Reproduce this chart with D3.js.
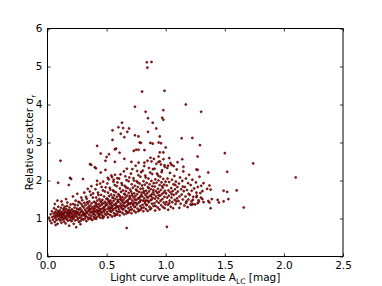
<!DOCTYPE html>
<html>
<head>
<meta charset="utf-8">
<script src="https://cdn.jsdelivr.net/npm/d3@7"></script>
<style>
  body { margin: 0; background: #fff; }
  text { font-family: "DejaVu Sans", sans-serif; fill: #000; }
</style>
</head>
<body>
<svg id="chart" width="382" height="286"></svg>
<script>
// axis ticks
var xTicks = [0.0, 0.5, 1.0, 1.5, 2.0, 2.5];
var yTicks = [0, 1, 2, 3, 4, 5, 6];

// [amplitude, scatter] pairs
// sparse points above the main cloud and in the tail
var spread = [
  [0.84,5.11],[0.88,5.12],[0.845,4.97],[0.80,4.34],[0.99,4.36],[0.74,3.94],[1.17,4.00],[1.30,3.81],
  [0.83,3.81],[0.98,3.85],[0.85,3.64],[0.97,3.65],[0.98,3.60],[0.89,3.52],[0.63,3.52],[0.60,3.40],
  [0.64,3.38],[0.69,3.37],[0.55,3.32],[0.92,3.37],[0.675,3.28],[0.62,3.23],[0.65,3.14],[0.85,3.28],
  [0.74,3.19],[0.77,3.16],[0.95,3.16],[1.135,3.11],[1.225,3.12],[0.78,3.00],[0.79,2.99],[0.87,2.99],
  [0.89,2.97],[0.94,3.00],[0.96,2.98],[1.00,2.87],[0.42,2.91],[0.55,3.07],[0.58,2.84],[0.61,2.73],
  [0.45,2.71],[0.52,2.69],[0.75,2.81],[0.77,2.81],[0.73,2.78],[0.82,2.80],[0.95,2.74],[0.98,2.74],
  [1.03,2.59],[1.27,2.63],[1.10,2.48],[1.14,2.56],[0.49,2.52],[0.57,2.49],[0.65,2.57],[0.71,2.49],
  [0.88,2.50],[0.90,2.57],[0.94,2.63],[0.94,2.49],[0.96,2.42],[0.99,2.40],[1.02,2.39],[1.05,2.41],
  [0.36,2.43],[0.40,2.35],[0.82,2.47],[1.15,2.36],[1.29,2.93],[1.50,2.72],[1.74,2.45],[1.26,2.29],
  [1.27,2.28],[1.36,2.21],[1.52,2.23],[2.10,2.08],[1.32,1.93],[1.30,1.86],[1.37,1.87],[1.38,1.76],
  [1.35,1.78],[1.31,1.72],[1.26,1.68],[1.22,1.73],[1.49,1.73],[1.52,1.70],[1.60,1.74],[1.26,1.56],
  [1.23,1.49],[1.31,1.51],[1.28,1.44],[1.27,1.40],[1.32,1.43],[1.36,1.46],[1.37,1.42],[1.39,1.51],
  [1.44,1.49],[1.45,1.42],[1.49,1.45],[1.53,1.51],[1.21,1.37],[1.22,1.36],[1.23,1.38],[1.38,1.27],
  [1.66,1.29],[0.11,2.52],[0.50,2.62],[0.57,2.82],[0.09,1.94],[0.19,2.07],[0.30,2.04],[0.37,2.41],
  [0.41,2.32],[0.49,2.28],[0.45,2.21],[0.51,2.07],[0.54,2.13],[0.56,2.02],[0.59,2.06],[0.20,2.04],
  [0.42,1.99],[0.18,1.88],[1.01,0.78],[0.67,0.75]
];

// dense band, amplitude below 0.3
var coreLow = [
  [0.013,1.02],[0.021,0.94],[0.027,1.11],[0.034,0.88],[0.038,1.19],[0.041,1.04],[0.046,0.97],[0.052,1.13],
  [0.055,1.27],[0.058,1.06],[0.061,0.91],[0.064,1.16],[0.067,1.01],[0.071,1.09],[0.073,1.23],[0.077,0.96],
  [0.079,1.14],[0.082,1.05],[0.086,0.86],[0.088,1.19],[0.091,1.31],[0.093,1.08],[0.096,0.99],[0.098,1.17],
  [0.062,1.38],[0.084,1.47],[0.069,0.83],[0.094,1.12],
  [0.102,1.07],[0.104,1.21],[0.107,0.95],[0.109,1.13],[0.112,1.02],[0.114,1.28],[0.116,1.09],[0.118,0.89],
  [0.121,1.17],[0.123,1.04],[0.126,1.36],[0.127,0.97],[0.131,1.12],[0.133,1.23],[0.135,1.01],[0.138,1.15],
  [0.141,0.92],[0.143,1.08],[0.145,1.31],[0.147,1.19],[0.151,1.03],[0.153,0.87],[0.156,1.14],[0.158,1.25],
  [0.161,1.06],[0.163,0.98],[0.166,1.18],[0.168,1.42],[0.171,1.09],[0.173,0.94],[0.176,1.22],[0.178,1.03],
  [0.181,1.13],[0.183,0.81],[0.186,1.29],[0.188,1.07],[0.191,0.96],[0.193,1.16],[0.196,1.37],[0.198,1.02],
  [0.119,1.45],[0.139,1.26],[0.157,1.51],[0.174,1.11],[0.192,1.21],[0.111,1.11],[0.149,1.0],[0.165,1.33],
  [0.185,1.17],[0.129,1.08],
  [0.202,1.12],[0.204,0.93],[0.207,1.24],[0.209,1.06],[0.212,1.17],[0.214,0.99],[0.217,1.38],[0.219,1.1],
  [0.222,0.86],[0.224,1.2],[0.226,1.03],[0.229,1.29],[0.231,1.14],[0.234,0.95],[0.236,1.08],[0.238,1.47],
  [0.241,1.19],[0.243,0.77],[0.246,1.05],[0.248,1.26],[0.251,1.12],[0.253,0.97],[0.256,1.35],[0.258,1.16],
  [0.261,1.01],[0.263,1.23],[0.266,0.91],[0.268,1.09],[0.271,1.42],[0.273,1.13],[0.276,1.02],[0.278,1.27],
  [0.281,0.94],[0.283,1.18],[0.286,1.55],[0.288,1.07],[0.291,1.21],[0.293,0.99],[0.296,1.33],[0.298,1.11],
  [0.215,1.58],[0.233,1.36],[0.252,1.65],[0.262,1.44],[0.279,0.85],[0.294,1.48],[0.206,1.02],[0.244,1.15],
  [0.269,1.25],[0.287,1.38]
];

// dense band, amplitude 0.3 - 0.7
var coreMid = [
  [0.302,1.16],[0.304,0.97],[0.307,1.29],[0.309,1.08],[0.312,1.41],[0.314,1.12],[0.317,1.0],[0.319,1.23],
  [0.322,1.35],[0.324,1.06],[0.327,1.18],[0.329,0.93],[0.332,1.52],[0.334,1.14],[0.337,1.27],[0.339,1.03],
  [0.342,1.39],[0.344,1.19],[0.347,0.98],[0.349,1.31],[0.352,1.1],[0.354,1.45],[0.357,1.21],[0.359,1.02],
  [0.362,1.34],[0.364,1.15],[0.367,1.62],[0.369,1.26],[0.372,1.07],[0.374,1.4],[0.377,1.18],[0.379,0.96],
  [0.382,1.3],[0.384,1.55],[0.387,1.12],[0.389,1.24],[0.392,1.04],[0.394,1.44],[0.397,1.2],[0.399,1.33],
  [0.311,1.68],[0.326,1.57],[0.341,1.78],[0.358,1.71],[0.371,1.85],[0.386,1.66],[0.398,1.0],[0.318,1.11],
  [0.336,1.43],[0.353,1.25],[0.368,0.99],[0.391,1.15],
  [0.402,1.27],[0.404,1.09],[0.407,1.41],[0.409,1.18],[0.412,1.55],[0.414,1.03],[0.417,1.32],[0.419,1.22],
  [0.422,1.47],[0.424,1.13],[0.427,1.68],[0.429,1.29],[0.432,1.06],[0.434,1.38],[0.437,1.2],[0.439,1.51],
  [0.442,1.11],[0.444,1.33],[0.447,1.02],[0.449,1.45],[0.452,1.24],[0.454,1.62],[0.457,1.15],[0.459,1.36],
  [0.462,1.08],[0.464,1.49],[0.467,1.27],[0.469,1.74],[0.472,1.19],[0.474,1.4],[0.477,1.05],[0.479,1.58],
  [0.482,1.31],[0.484,1.13],[0.487,1.44],[0.489,1.23],[0.492,1.82],[0.494,1.35],[0.497,1.1],[0.499,1.52],
  [0.406,1.77],[0.418,1.89],[0.431,1.62],[0.446,1.92],[0.458,1.83],[0.471,1.97],[0.486,1.71],[0.411,0.99],
  [0.426,1.17],[0.441,1.25],[0.456,1.42],[0.468,1.01],[0.481,1.21],[0.496,1.39],[0.415,1.37],[0.436,1.09],
  [0.451,1.16],[0.476,1.28],
  [0.502,1.36],[0.504,1.17],[0.507,1.52],[0.509,1.26],[0.512,1.68],[0.514,1.12],[0.517,1.43],[0.519,1.31],
  [0.522,1.59],[0.524,1.21],[0.527,1.81],[0.529,1.38],[0.532,1.09],[0.534,1.47],[0.537,1.28],[0.539,1.63],
  [0.542,1.19],[0.544,1.41],[0.547,1.05],[0.549,1.55],[0.552,1.33],[0.554,1.74],[0.557,1.23],[0.559,1.46],
  [0.562,1.14],[0.564,1.61],[0.567,1.37],[0.569,1.88],[0.572,1.27],[0.574,1.51],[0.577,1.11],[0.579,1.69],
  [0.582,1.4],[0.584,1.2],[0.587,1.57],[0.589,1.32],[0.592,1.95],[0.594,1.45],[0.597,1.16],[0.599,1.64],
  [0.506,1.92],[0.518,2.03],[0.531,1.76],[0.546,2.09],[0.558,1.97],[0.571,2.15],[0.586,1.85],[0.511,1.03],
  [0.526,1.25],[0.541,1.34],[0.556,1.54],[0.568,1.07],[0.581,1.29],[0.596,1.49],[0.515,1.48],[0.536,1.18],
  [0.551,1.26],[0.576,1.36],[0.563,1.71],[0.588,1.1],[0.521,1.42],[0.598,1.3],
  [0.602,1.44],[0.604,1.24],[0.607,1.61],[0.609,1.33],[0.612,1.79],[0.614,1.18],[0.617,1.51],[0.619,1.39],
  [0.622,1.7],[0.624,1.28],[0.627,1.93],[0.629,1.46],[0.632,1.15],[0.634,1.56],[0.637,1.35],[0.639,1.74],
  [0.642,1.25],[0.644,1.5],[0.647,1.11],[0.649,1.65],[0.652,1.41],[0.654,1.86],[0.657,1.3],[0.659,1.55],
  [0.662,1.2],[0.664,1.72],[0.667,1.45],[0.669,2.01],[0.672,1.34],[0.674,1.6],[0.677,1.17],[0.679,1.8],
  [0.682,1.49],[0.684,1.27],[0.687,1.67],[0.689,1.4],[0.692,2.08],[0.694,1.54],[0.697,1.22],[0.699,1.76],
  [0.606,2.05],[0.618,2.16],[0.631,1.88],[0.646,2.24],[0.658,2.11],[0.671,2.31],[0.686,1.98],[0.611,1.08],
  [0.626,1.32],[0.641,1.42],[0.656,1.63],[0.668,1.13],[0.681,1.37],[0.696,1.59],[0.615,1.57],[0.636,1.24],
  [0.651,1.33],[0.676,1.44],[0.663,1.82],[0.688,1.16],[0.621,1.5],[0.698,1.38]
];

// dense band, amplitude 0.7 - 1.0
var coreHigh = [
  [0.702,1.52],[0.704,1.3],[0.707,1.71],[0.709,1.41],[0.712,1.9],[0.714,1.24],[0.717,1.6],[0.719,1.47],
  [0.722,1.81],[0.724,1.35],[0.727,2.06],[0.729,1.55],[0.732,1.2],[0.734,1.66],[0.737,1.42],[0.739,1.86],
  [0.742,1.31],[0.744,1.59],[0.747,1.16],[0.749,1.76],[0.752,1.49],[0.754,1.98],[0.757,1.37],[0.759,1.64],
  [0.762,1.26],[0.764,1.83],[0.767,1.53],[0.769,2.14],[0.772,1.42],[0.774,1.7],[0.777,1.22],[0.779,1.92],
  [0.782,1.57],[0.784,1.33],[0.787,1.78],[0.789,1.48],[0.792,2.22],[0.794,1.62],[0.797,1.28],[0.799,1.87],
  [0.706,2.18],[0.718,2.3],[0.731,2.0],[0.746,2.39],[0.758,2.25],[0.771,2.47],[0.786,2.1],[0.711,1.14],
  [0.726,1.39],[0.741,1.5],[0.756,1.73],[0.768,1.19],[0.781,1.44],[0.796,1.68],[0.715,1.65],[0.736,1.3],
  [0.751,1.4],[0.776,1.53],[0.763,1.95],[0.788,1.23],
  [0.802,1.58],[0.804,1.36],[0.807,1.79],[0.809,1.47],[0.812,1.98],[0.814,1.29],[0.817,1.67],[0.819,1.53],
  [0.822,1.89],[0.824,1.4],[0.827,2.13],[0.829,1.62],[0.832,1.25],[0.834,1.73],[0.837,1.48],[0.839,1.94],
  [0.842,1.36],[0.844,1.66],[0.847,1.2],[0.849,1.83],[0.852,1.55],[0.854,2.05],[0.857,1.43],[0.859,1.71],
  [0.862,1.31],[0.864,1.9],[0.867,1.6],[0.869,2.21],[0.872,1.48],[0.874,1.77],[0.877,1.27],[0.879,1.99],
  [0.882,1.64],[0.884,1.39],[0.887,1.85],[0.889,1.54],[0.892,2.3],[0.894,1.69],[0.897,1.33],[0.899,1.93],
  [0.806,2.26],[0.818,2.38],[0.831,2.08],[0.846,2.52],[0.858,2.33],[0.871,2.6],[0.886,2.17],[0.811,1.19],
  [0.826,1.45],[0.841,1.57],[0.856,1.8],[0.868,1.24],[0.881,1.5],[0.896,1.75],[0.815,1.72],[0.836,1.35],
  [0.851,1.46],[0.876,1.59],
  [0.902,1.63],[0.904,1.4],[0.907,1.84],[0.909,1.52],[0.912,2.03],[0.914,1.33],[0.917,1.72],[0.919,1.58],
  [0.922,1.94],[0.924,1.45],[0.927,2.18],[0.929,1.67],[0.932,1.29],[0.934,1.78],[0.937,1.53],[0.939,2.0],
  [0.942,1.41],[0.944,1.7],[0.947,1.24],[0.949,1.88],[0.952,1.6],[0.954,2.1],[0.957,1.47],[0.959,1.75],
  [0.962,1.35],[0.964,1.95],[0.967,1.64],[0.969,2.27],[0.972,1.51],[0.974,1.81],[0.977,1.3],[0.979,2.04],
  [0.982,1.68],[0.984,1.42],[0.987,1.89],[0.989,1.57],[0.992,2.36],[0.994,1.73],[0.997,1.37],[0.999,1.97],
  [0.906,2.31],[0.921,2.44],[0.936,2.13],[0.951,2.5],[0.966,2.22],[0.981,2.56],[0.911,1.21],[0.941,1.61],
  [0.971,1.85],[0.991,1.27]
];

// thinning band, amplitude 1.0 - 1.3
var tail = [
  [1.003,1.66],[1.006,1.43],[1.009,1.87],[1.012,1.55],[1.016,2.05],[1.019,1.36],[1.023,1.74],[1.026,1.6],
  [1.029,1.96],[1.033,1.47],[1.036,2.2],[1.039,1.69],[1.043,1.31],[1.046,1.8],[1.049,1.55],[1.053,2.02],
  [1.056,1.43],[1.059,1.72],[1.063,1.27],[1.066,1.9],[1.069,1.62],[1.073,2.12],[1.076,1.49],[1.079,1.77],
  [1.083,1.38],[1.086,1.97],[1.089,1.66],[1.093,2.29],[1.096,1.53],[1.099,1.83],[1.013,2.33],[1.041,2.46],
  [1.068,2.38],[1.021,1.23],[1.051,1.64],[1.081,1.88],[1.031,1.4],[1.091,1.45],
  [1.103,1.71],[1.108,1.46],[1.112,1.92],[1.117,1.58],[1.121,2.08],[1.126,1.39],[1.131,1.77],[1.135,1.63],
  [1.14,1.99],[1.144,1.5],[1.149,2.24],[1.153,1.72],[1.158,1.34],[1.162,1.83],[1.167,1.58],[1.171,2.05],
  [1.176,1.45],[1.18,1.75],[1.185,1.3],[1.189,1.93],[1.194,1.65],[1.198,2.15],[1.115,1.28],[1.145,1.84],
  [1.172,1.41],[1.192,1.5],
  [1.204,1.62],[1.211,1.88],[1.218,1.45],[1.226,2.02],[1.233,1.57],[1.241,1.79],[1.248,1.37],[1.256,1.95],
  [1.263,1.6],[1.271,1.83],[1.278,1.48],[1.286,2.1],[1.293,1.67],[1.298,1.55]
];

var points = coreLow.concat(coreMid, coreHigh, tail, spread);

var svg = d3.select("#chart");
var plotL = 47.5, plotR = 343, plotT = 28.5, plotB = 256.5;

var x = d3.scaleLinear().domain([0, 2.5]).range([plotL, plotR]);
var y = d3.scaleLinear().domain([0, 6]).range([plotB, plotT]);

svg.append("rect").attr("width", 382).attr("height", 286).attr("fill", "#fff");

svg.append("g").selectAll("circle")
    .data(points)
    .enter().append("circle")
    .attr("cx", function(d) { return x(d[0]); })
    .attr("cy", function(d) { return y(d[1]); })
    .attr("r", 1.05)
    .attr("fill", "#d40000")
    .attr("stroke", "#1a0000")
    .attr("stroke-width", 0.55);

// matplotlib style: ticks inward on all four sides
var fmt = d3.format(".1f");
var tickLen = 3;
var axes = [
    { a: d3.axisBottom(x).tickValues(xTicks).tickFormat(fmt), t: "translate(0," + plotB + ")" },
    { a: d3.axisTop(x).tickValues(xTicks).tickFormat(""), t: "translate(0," + plotT + ")" },
    { a: d3.axisLeft(y).tickValues(yTicks).tickFormat(d3.format("d")), t: "translate(" + plotL + ",0)" },
    { a: d3.axisRight(y).tickValues(yTicks).tickFormat(""), t: "translate(" + plotR + ",0)" }
];
axes.forEach(function(ax) {
    var g = svg.append("g").attr("transform", ax.t)
        .call(ax.a.tickSizeInner(-tickLen).tickSizeOuter(0).tickPadding(5));
    g.select(".domain").remove();
    g.selectAll("line").attr("stroke", "#000").attr("stroke-width", 0.8);
    g.selectAll("text").attr("font-family", "DejaVu Sans").attr("font-size", 10.5).attr("fill", "#000");
});

svg.append("rect")
    .attr("x", plotL).attr("y", plotT)
    .attr("width", plotR - plotL).attr("height", plotB - plotT)
    .attr("fill", "none").attr("stroke", "#000").attr("stroke-width", 1);

var xl = svg.append("text")
    .attr("x", (plotL + plotR) / 2).attr("y", 281)
    .attr("text-anchor", "middle").attr("font-size", 10.5);
xl.append("tspan").text("Light curve amplitude A");
xl.append("tspan").attr("font-size", 7.5).attr("dy", 2.5).text("LC");
xl.append("tspan").attr("dy", -2.5).text(" [mag]");

var yl = svg.append("text")
    .attr("transform", "translate(33," + (plotT + plotB) / 2 + ") rotate(-90)")
    .attr("text-anchor", "middle").attr("font-size", 10.5);
yl.append("tspan").text("Relative scatter σ");
yl.append("tspan").attr("font-size", 7.5).attr("dy", 2.5).text("r");
</script>
</body>
</html>
